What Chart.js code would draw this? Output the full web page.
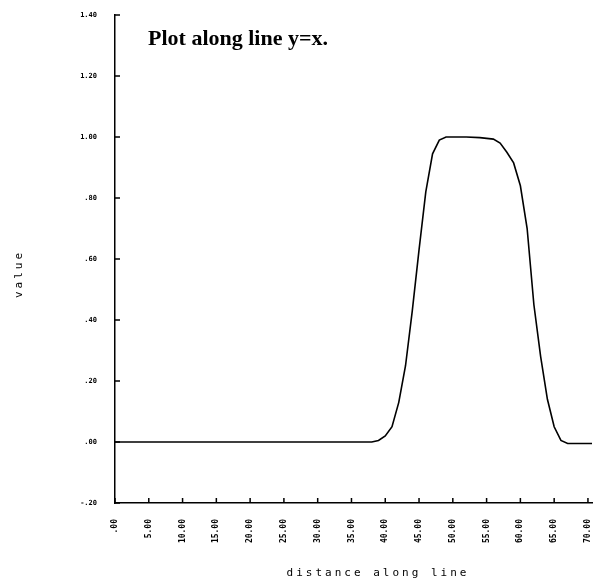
<!DOCTYPE html>
<html>
<head>
<meta charset="utf-8">
<script src="https://cdn.jsdelivr.net/npm/chart.js@4.4.0/dist/chart.umd.min.js"></script>
<style>
  html, body { margin: 0; padding: 0; background: #fff; }
</style>
</head>
<body>
<canvas id="plot" width="594" height="584"></canvas>
<script>
// profile sampled along the diagonal y = x
var distance = [0, 10, 20, 30, 38, 39, 40, 41, 42, 43, 44, 45, 46, 47, 48, 49, 50, 52, 54, 56, 57, 58, 59, 60, 61, 62, 63, 64, 65, 66, 67, 70.6];
var value = [0, 0, 0, 0, 0, 0.005, 0.02, 0.05, 0.13, 0.25, 0.43, 0.63, 0.82, 0.945, 0.99, 1.0, 1.0, 1.0, 0.998, 0.993, 0.98, 0.95, 0.915, 0.84, 0.70, 0.45, 0.28, 0.14, 0.05, 0.005, -0.005, -0.005];

var xTicks = [0, 5, 10, 15, 20, 25, 30, 35, 40, 45, 50, 55, 60, 65, 70];
var yTicks = [-0.2, 0, 0.2, 0.4, 0.6, 0.8, 1.0, 1.2, 1.4];

var plotTitle = 'Plot along line y=x.';
var xTitle = 'distance along line';
var yTitle = 'value';

// old plotter style numbers: ".00", "-.20", "5.00"
function fmt(v) {
  return v.toFixed(2).replace(/^(-?)0\./, '$1.');
}

var points = distance.map(function (d, i) { return { x: d, y: value[i] }; });

var plotLabels = {
  id: 'plotLabels',
  afterDraw: function (chart) {
    var ctx = chart.ctx, area = chart.chartArea;
    var xs = chart.scales.x, ys = chart.scales.y;
    ctx.save();

    // short inward tick marks
    ctx.strokeStyle = '#000';
    ctx.lineWidth = 1.5;
    ctx.beginPath();
    xTicks.forEach(function (v) {
      var px = xs.getPixelForValue(v);
      ctx.moveTo(px, area.bottom);
      ctx.lineTo(px, area.bottom - 5);
    });
    yTicks.forEach(function (v) {
      var py = ys.getPixelForValue(v);
      ctx.moveTo(area.left, py);
      ctx.lineTo(area.left + 5, py);
    });
    ctx.stroke();

    ctx.fillStyle = '#000';
    ctx.font = 'bold 22px "Liberation Serif"';
    ctx.textAlign = 'left';
    ctx.textBaseline = 'alphabetic';
    ctx.fillText(plotTitle, 148, 45);

    ctx.font = '11px "DejaVu Sans Mono"';
    ctx.letterSpacing = '3px';
    ctx.textAlign = 'center';
    ctx.fillText(xTitle, 378, 576);
    ctx.translate(22, 274);
    ctx.rotate(-Math.PI / 2);
    ctx.fillText(yTitle, 0, 0);
    ctx.restore();
  }
};

new Chart(document.getElementById('plot'), {
  type: 'line',
  data: {
    datasets: [{
      data: points,
      borderColor: '#000',
      borderWidth: 1.6,
      pointRadius: 0,
      tension: 0,
      fill: false
    }]
  },
  options: {
    responsive: false,
    animation: false,
    layout: { padding: { top: 15, right: 2, left: 0, bottom: 0 } },
    plugins: {
      legend: { display: false },
      tooltip: { enabled: false }
    },
    scales: {
      x: {
        type: 'linear',
        min: 0,
        max: 70.6,
        afterBuildTicks: function (scale) {
          scale.ticks = xTicks.map(function (v) { return { value: v }; });
        },
        afterFit: function (scale) {
          scale.height = 81;
          scale.paddingLeft = 0;
          scale.paddingRight = 0;
        },
        grid: { display: false, drawTicks: false },
        border: { display: true, color: '#000', width: 1.5 },
        ticks: {
          autoSkip: false,
          minRotation: 90,
          maxRotation: 90,
          padding: 16,
          color: '#000',
          font: { family: 'DejaVu Sans Mono', size: 8, weight: 'bold' },
          callback: function (v) { return fmt(v); }
        }
      },
      y: {
        type: 'linear',
        min: -0.2,
        max: 1.4,
        afterBuildTicks: function (scale) {
          scale.ticks = yTicks.map(function (v) { return { value: v }; });
        },
        afterFit: function (scale) {
          scale.width = 115;
          scale.paddingTop = 0;
          scale.paddingBottom = 0;
        },
        grid: { display: false, drawTicks: false },
        border: { display: true, color: '#000', width: 1.5 },
        ticks: {
          padding: 18,
          color: '#000',
          font: { family: 'DejaVu Sans Mono', size: 7, weight: 'bold' },
          callback: function (v) { return fmt(v); }
        }
      }
    }
  },
  plugins: [plotLabels]
});
</script>
</body>
</html>
